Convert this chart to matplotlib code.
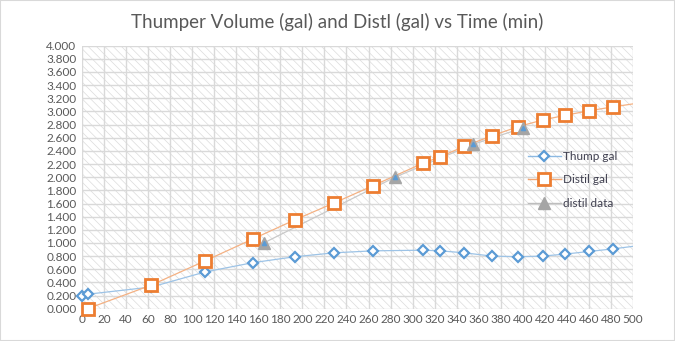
import matplotlib.pyplot as plt
from matplotlib.patches import Rectangle

# data (last point sits just past the axis)
thump_min = [0, 5, 63, 112, 155, 193, 229, 264, 309, 325, 347, 372,
             396, 418, 438, 460, 482, 510]
thump_gal = [0.20, 0.22, 0.33, 0.56, 0.70, 0.79, 0.85, 0.88, 0.89, 0.88,
             0.85, 0.80, 0.79, 0.80, 0.83, 0.87, 0.91, 0.97]

distil_min = [5, 63, 112, 155, 193, 229, 264, 309, 325, 347, 372, 396,
              418, 438, 460, 482, 510]
distil_gal = [0.00, 0.36, 0.73, 1.06, 1.35, 1.61, 1.87, 2.21, 2.31, 2.47,
              2.63, 2.77, 2.87, 2.94, 3.01, 3.07, 3.14]

data_min = [165, 284, 355, 400]
data_gal = [1.00, 2.00, 2.50, 2.75]

x_ticks = list(range(0, 501, 20))
y_ticks = [i * 0.2 for i in range(21)]

BLUE = '#5B9BD5'
ORANGE = '#ED7D31'
GREY = '#A5A5A5'
TXT = '#595959'
XMAX = 500


def inside(xs, ys):
    pts = [(x, y) for x, y in zip(xs, ys) if x <= XMAX]
    return [p[0] for p in pts], [p[1] for p in pts]


plt.rcParams['font.family'] = ['Lato', 'DejaVu Sans']
plt.rcParams['hatch.linewidth'] = 0.5
plt.rcParams['hatch.color'] = '#dcdcdc'

fig = plt.figure(figsize=(6.75, 3.41), dpi=100)
ax = fig.add_axes([82 / 675, 1 - 308.7 / 341, 551 / 675, 263 / 341])

# excel style hatched plot area
ax.add_patch(Rectangle((0, 0), 1, 1, transform=ax.transAxes,
                       facecolor='white', edgecolor='#dcdcdc',
                       hatch='\\\\\\\\', linewidth=0, zorder=0))

# connecting lines (clipped at the axis edge)
ax.plot(thump_min, thump_gal, color='#9DC3E6', lw=0.9, zorder=2)
ax.plot(distil_min, distil_gal, color='#F4B183', lw=0.9, zorder=2)
ax.plot(data_min, data_gal, color='#C9C9C9', lw=0.9, zorder=2)

# markers, not clipped so the ones on the axis edge stay whole
tx, ty = inside(thump_min, thump_gal)
ax.plot(tx, ty, ls='none', marker='D', ms=5, mfc='white', mec=BLUE,
        mew=1.6, clip_on=False, zorder=3)
dx, dy = inside(distil_min, distil_gal)
ax.plot(dx, dy, ls='none', marker='s', ms=8, mfc='white', mec=ORANGE,
        mew=2, clip_on=False, zorder=4)
ax.plot(data_min, data_gal, ls='none', marker='^', ms=8, mfc=GREY,
        mec=GREY, zorder=5)
ax.plot(data_min, data_gal, ls='none', marker='^', ms=3, color=BLUE,
        zorder=6)

# legend handles
ax.plot([], [], color='#8DB9E2', lw=1, marker='D', ms=5, mfc='white',
        mec=BLUE, mew=1.6, label='Thump gal')
ax.plot([], [], color='#F2A673', lw=1, marker='s', ms=8, mfc='white',
        mec=ORANGE, mew=2, label='Distil gal')
ax.plot([], [], color='#BDBDBD', lw=1, marker='^', ms=8, mfc=GREY,
        mec=GREY, label='distil data')

ax.set_xlim(0, XMAX)
ax.set_ylim(0, 4)
ax.set_xticks(x_ticks)
ax.set_yticks(y_ticks)
ax.set_yticklabels(['%.3f' % v for v in y_ticks])
ax.grid(True, color='#d9d9d9', lw=1)
ax.set_axisbelow(True)
for s in ax.spines.values():
    s.set_visible(False)
ax.tick_params(length=0, labelsize=8.5, colors=TXT, pad=4)

leg = ax.legend(loc='upper left', bbox_to_anchor=(0.79, 0.64),
                frameon=False, fontsize=8.5, labelspacing=1.05,
                handlelength=2.8, handletextpad=0.2)
for t in leg.get_texts():
    t.set_color('#404050')

fig.text(0.5, 0.935, 'Thumper Volume (gal) and Distl (gal) vs Time (min)',
         ha='center', va='center', fontsize=13.5, color=TXT)

fig.patches.append(Rectangle((0, 0), 1, 1, transform=fig.transFigure,
                             fill=False, edgecolor='#d9d9d9', lw=1.5))

plt.savefig('out.png', dpi=100)
